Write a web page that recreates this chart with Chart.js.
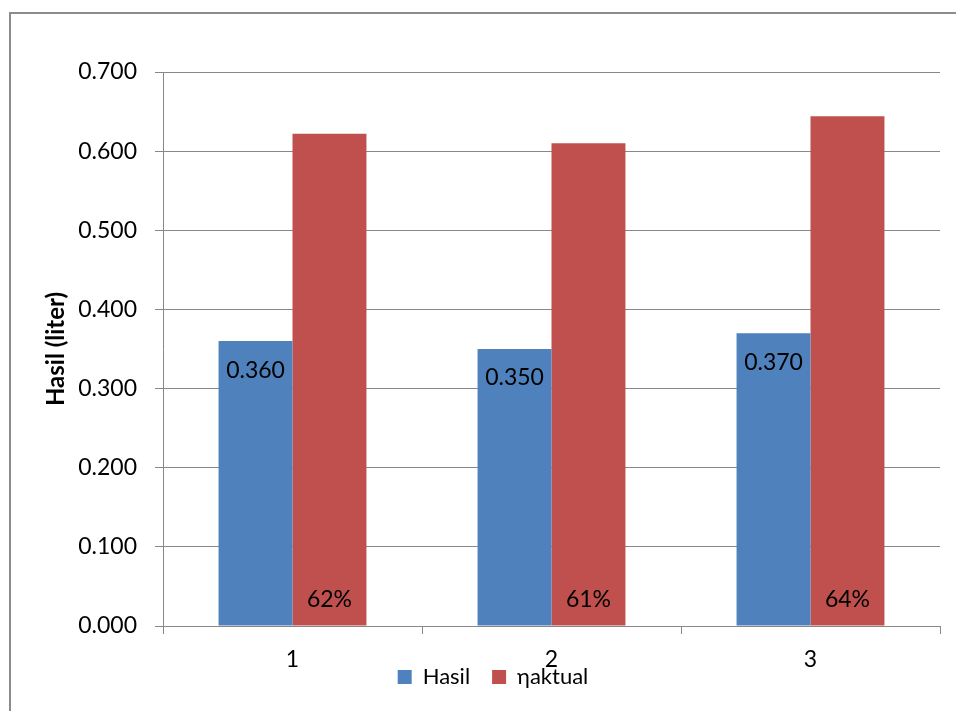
<!DOCTYPE html>
<html><head><meta charset="utf-8">
<script src="https://cdn.jsdelivr.net/npm/chart.js@4"></script>
<style>
html,body{margin:0;padding:0;background:#fff;}
#frame{position:absolute;left:9px;top:12px;width:960px;height:720px;border-left:2px solid #8c8c8c;border-top:2px solid #8c8c8c;box-sizing:border-box;}
#wrap{position:absolute;left:0;top:0;width:956px;height:711px;}
</style></head>
<body>
<div id="frame"></div>
<div id="wrap"><canvas id="c" width="956" height="711"></canvas></div>
<script>
const categories = ['1', '2', '3'];
const hasilValues = [0.360, 0.350, 0.370];
const aktualValues = [0.622, 0.610, 0.644];
const seriesNames = ['Hasil', 'ηaktual'];
const yTitle = 'Hasil (liter)';

const FONT = 'Lato';
const LEGEND_PAD = 22;
const LEGEND_CENTER_Y = 677;
const LEGEND_SHIFT_X = 8;

const labelPlugin = {
  id: 'barLabels',
  afterDatasetsDraw(chart) {
    const ctx = chart.ctx;
    ctx.save();
    ctx.font = '23px ' + FONT;
    ctx.fillStyle = '#000';
    ctx.textAlign = 'center';
    ctx.textBaseline = 'middle';
    chart.getDatasetMeta(0).data.forEach((el, i) => {
      ctx.fillText(hasilValues[i].toFixed(3), el.x, el.y + 29);
    });
    chart.getDatasetMeta(1).data.forEach((el, i) => {
      ctx.fillText(Math.round(aktualValues[i] * 100) + '%', el.x, el.base - 26);
    });
    ctx.restore();
  }
};

// move the legend up so it sits just under the category labels
const legendShift = {
  id: 'legendShift',
  afterLayout(chart) {
    const lg = chart.legend;
    if (!lg) return;
    const itemH = 22;
    const dy = (LEGEND_CENTER_Y - itemH / 2 - LEGEND_PAD) - lg.top;
    lg.top += dy;
    lg.bottom += dy;
    lg.left += LEGEND_SHIFT_X;
    lg.right += LEGEND_SHIFT_X;
  }
};

new Chart(document.getElementById('c'), {
  type: 'bar',
  data: {
    labels: categories,
    datasets: [
      { label: seriesNames[0], data: hasilValues, backgroundColor: '#4F81BD', borderWidth: 0 },
      { label: seriesNames[1], data: aktualValues, backgroundColor: '#C0504D', borderWidth: 0 }
    ]
  },
  options: {
    responsive: false,
    animation: false,
    devicePixelRatio: 1,
    layout: { padding: { left: 30, right: 16, top: 72, bottom: -24 } },
    datasets: { bar: { barPercentage: 1, categoryPercentage: 0.571 } },
    plugins: {
      legend: {
        position: 'bottom',
        labels: { boxWidth: 14, boxHeight: 14, padding: LEGEND_PAD, color: '#000', font: { family: FONT, size: 22 } }
      },
      tooltip: { enabled: false }
    },
    scales: {
      x: {
        afterFit(s) { s.height = 55; },
        grid: { display: true, drawOnChartArea: false, drawTicks: true, tickLength: 8, offset: true, color: '#888' },
        border: { color: '#888', width: 1 },
        ticks: { color: '#000', font: { family: FONT, size: 23 }, padding: 12 }
      },
      y: {
        min: 0, max: 0.7,
        afterFit(s) { s.width = 133; },
        grid: { color: '#888', tickLength: 8 },
        border: { color: '#888', width: 1 },
        ticks: { stepSize: 0.1, color: '#000', padding: 18, font: { family: FONT, size: 23 },
          callback: v => Number(v).toFixed(3) },
        title: { display: true, text: yTitle, color: '#000', font: { family: FONT, size: 24, weight: 'bold' }, padding: { top: 12, bottom: 0 } }
      }
    }
  },
  plugins: [labelPlugin, legendShift]
});
</script>
</body></html>
